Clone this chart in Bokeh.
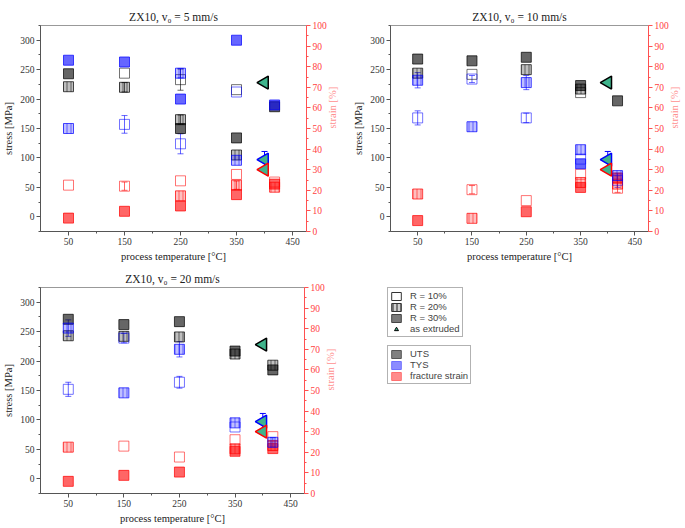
import math
from bokeh.plotting import figure
from bokeh.models import (Range1d, LinearAxis, FixedTicker, ColumnDataSource,
                          Whisker, TeeHead, Legend, LegendItem)
from bokeh.layouts import column, row
from bokeh.embed import file_html
from bokeh.resources import INLINE

# ---------------- data ----------------
x_ticks = [50, 150, 250, 350, 450]
x_minor = [100, 200, 300, 400]
stress_ticks = [0, 50, 100, 150, 200, 250, 300]
strain_ticks = [0, 10, 20, 30, 40, 50, 60, 70, 80, 90, 100]

titles = ["ZX10, v\u2080 = 5 mm/s", "ZX10, v\u2080 = 10 mm/s", "ZX10, v\u2080 = 20 mm/s"]

# v0 = 5 mm/s
v5_uts_T = [50, 50, 150, 150, 250, 250, 250, 350, 350, 350, 418]
v5_uts_val = [243, 221, 244, 220, 233, 165, 150, 216, 134, 105, 187]
v5_uts_R = [30, 20, 10, 20, 10, 20, 30, 10, 30, 20, 30]
v5_uts_err = [0, 0, 0, 8, 18, 8, 0, 0, 0, 0, 0]
v5_tys_T = [50, 50, 150, 150, 250, 250, 250, 350, 350, 350, 418]
v5_tys_val = [266, 150, 263, 157, 244, 200, 124, 300, 212, 96, 190]
v5_tys_R = [30, 20, 30, 10, 20, 30, 10, 30, 10, 20, 30]
v5_tys_err = [0, 0, 0, 15, 8, 0, 17, 0, 0, 0, 0]
v5_fs_T = [50, 50, 150, 150, 250, 250, 250, 350, 350, 350, 418, 418, 418]
v5_fs_val = [22.5, 6.5, 22, 9.8, 24.6, 17.3, 12.4, 27.7, 22.5, 17.9, 24, 21.5, 23]
v5_fs_R = [10, 30, 10, 30, 10, 20, 30, 10, 20, 30, 10, 20, 30]
v5_fs_err = [0, 0, 2, 0, 0, 0, 0, 0, 2, 0, 0, 0, 0]

# v0 = 10 mm/s
v10_uts_T = [50, 50, 150, 150, 250, 250, 350, 350, 350, 418]
v10_uts_val = [268, 244, 265, 242, 271, 250, 223, 217, 211, 197]
v10_uts_R = [30, 20, 30, 10, 30, 20, 30, 20, 10, 30]
v10_uts_err = [0, 0, 0, 0, 0, 0, 0, 0, 0, 0]
v10_tys_T = [50, 50, 150, 150, 250, 250, 350, 350, 350, 418, 418]
v10_tys_val = [232, 168, 234, 153, 228, 168, 114, 98, 90, 70, 62]
v10_tys_R = [20, 10, 10, 20, 20, 10, 20, 10, 30, 20, 10]
v10_tys_err = [13, 12, 6, 0, 12, 8, 0, 0, 0, 0, 12]
v10_fs_T = [50, 50, 150, 150, 250, 250, 350, 350, 350, 418, 418, 418]
v10_fs_val = [18.2, 5.3, 20.3, 6.4, 15, 9.6, 27.8, 23.8, 21.4, 26, 23, 21]
v10_fs_R = [20, 30, 10, 20, 10, 30, 10, 20, 30, 30, 20, 10]
v10_fs_err = [0, 0, 2, 0, 0, 0, 0, 0, 0, 0, 4, 0]

# v0 = 20 mm/s
v20_uts_T = [50, 50, 150, 150, 250, 250, 350, 350, 418, 418]
v20_uts_val = [271, 243, 262, 242, 267, 241, 217, 212, 193, 185]
v20_uts_R = [30, 20, 30, 20, 30, 20, 30, 20, 20, 30]
v20_uts_err = [0, 0, 0, 0, 0, 0, 0, 0, 0, 0]
v20_tys_T = [50, 50, 150, 150, 250, 250, 350, 350, 418]
v20_tys_val = [256, 152, 239, 146, 220, 164, 95, 88, 62]
v20_tys_R = [20, 10, 10, 20, 20, 10, 20, 10, 20]
v20_tys_err = [14, 12, 8, 0, 13, 10, 0, 0, 8]
v20_fs_T = [50, 50, 150, 150, 250, 250, 350, 350, 350, 418, 418, 418]
v20_fs_val = [22.5, 5.9, 23, 8.8, 17.7, 10.4, 26.1, 21.7, 20.5, 27.6, 23.3, 21.8]
v20_fs_R = [20, 30, 10, 30, 10, 30, 10, 20, 30, 10, 20, 30]
v20_fs_err = [0, 0, 0, 0, 0, 0, 0, 0, 0, 0, 0, 0]

# as extruded reference (T = 400 °C)
ext_T = 400
ext_uts = 228
ext_tys = 97
ext_tys_err = 14
ext_fs = 30

# ---------------- styling ----------------
SERIF = "Liberation Serif"
SANS = "Liberation Sans"
C_UTS = "#000000"
C_TYS = "#0000ff"
C_FS = "#ff0000"
TEAL = "#3fb48c"
FILL_ALPHA = {10: 0.0, 20: 0.25, 30: 0.6}
LINE_ALPHA = {10: 0.55, 20: 0.7, 30: 0.7}
FRAME_H = 206


def draw_series(p, T, val, R, err, color, range_name="default"):
    for r in (10, 20, 30):
        xs = [t for t, rr in zip(T, R) if rr == r]
        ys = [v for v, rr in zip(val, R) if rr == r]
        if not xs:
            continue
        kw = {}
        if r == 20:
            kw = dict(hatch_pattern="|", hatch_color=color, hatch_alpha=0.5, hatch_scale=4)
        p.scatter(xs, ys, marker="square", size=10, line_color=color,
                  line_alpha=LINE_ALPHA[r], fill_color=color if r > 10 else None,
                  fill_alpha=FILL_ALPHA[r], line_width=1, y_range_name=range_name, **kw)
    ex = [t for t, e in zip(T, err) if e > 0]
    if ex:
        up = [v + e for v, e in zip(val, err) if e > 0]
        lo = [v - e for v, e in zip(val, err) if e > 0]
        src = ColumnDataSource(dict(x=ex, upper=up, lower=lo))
        w = Whisker(base="x", upper="upper", lower="lower", source=src,
                    dimension="height", line_color=color, line_alpha=0.6, line_width=1,
                    upper_head=TeeHead(size=6, line_color=color, line_alpha=0.6),
                    lower_head=TeeHead(size=6, line_color=color, line_alpha=0.6),
                    y_range_name=range_name)
        p.add_layout(w)


def make_panel(title, data, frame_w, mbl, mbr, mbt, mbb):
    p = figure(frame_width=frame_w, frame_height=FRAME_H, output_backend="svg",
               toolbar_location=None,
               x_range=Range1d(0, 475), y_range=Range1d(-25, 325),
               min_border_left=mbl, min_border_right=mbr,
               min_border_top=mbt, min_border_bottom=mbb)
    p.extra_y_ranges = {"strain": Range1d(0, 100)}
    p.grid.visible = False
    p.outline_line_color = "#999999"
    p.background_fill_color = "white"

    p.title.text = title
    p.title.align = "center"
    p.title.text_font = SERIF
    p.title.text_font_size = "11.5px"
    p.title.text_font_style = "normal"
    p.title.text_color = "#222222"
    p.title.offset = 0
    p.title.standoff = 6

    xa = p.xaxis[0]
    xa.ticker = FixedTicker(ticks=x_ticks, minor_ticks=x_minor)
    xa.axis_label = "process temperature [\u00b0C]"
    ya = p.yaxis[0]
    ya.ticker = FixedTicker(ticks=stress_ticks,
                            minor_ticks=[-25, 25, 75, 125, 175, 225, 275, 325])
    ya.axis_label = "stress [MPa]"
    ra = LinearAxis(y_range_name="strain", axis_label="strain [%]",
                    ticker=FixedTicker(ticks=strain_ticks,
                                       minor_ticks=[5, 15, 25, 35, 45, 55, 65, 75, 85, 95]))
    p.add_layout(ra, "right")
    try:
        ra.axis_label_orientation = math.pi / 2
    except Exception:
        pass

    for ax in (xa, ya):
        ax.axis_line_color = "#555555"
        ax.major_tick_line_color = "#555555"
        ax.minor_tick_line_color = "#555555"
        ax.major_label_text_color = "#333333"
        ax.axis_label_text_color = "#222222"
    for ax in (xa, ya, ra):
        ax.major_label_text_font = SERIF
        ax.major_label_text_font_size = "9.5px"
        ax.axis_label_text_font = SERIF
        ax.axis_label_text_font_size = "10.5px"
        ax.axis_label_text_font_style = "normal"
        ax.major_tick_out = 4
        ax.major_tick_in = 0
        ax.minor_tick_out = 2
        ax.minor_tick_in = 0
        ax.major_label_standoff = 2
        ax.axis_label_standoff = 3
    ra.axis_line_color = "#ff5050"
    ra.major_tick_line_color = "#ff5050"
    ra.minor_tick_line_color = "#ff5050"
    ra.major_label_text_color = "#ff4040"
    ra.axis_label_text_color = "#ff9090"

    (uT, uV, uR, uE), (tT, tV, tR, tE), (fT, fV, fR, fE) = data
    draw_series(p, fT, fV, fR, fE, C_FS, "strain")
    draw_series(p, uT, uV, uR, uE, C_UTS)
    draw_series(p, tT, tV, tR, tE, C_TYS)

    # as extruded
    src = ColumnDataSource(dict(x=[ext_T], upper=[ext_tys + ext_tys_err], lower=[ext_tys - ext_tys_err]))
    p.add_layout(Whisker(base="x", upper="upper", lower="lower", source=src,
                         dimension="height", line_color=C_TYS, line_width=1,
                         upper_head=TeeHead(size=6, line_color=C_TYS),
                         lower_head=TeeHead(size=6, line_color=C_TYS)))
    tri = dict(marker="triangle", size=13, angle=math.pi / 2, fill_color=TEAL, line_width=1.5)
    p.scatter([ext_T], [ext_uts], line_color=C_UTS, **tri)
    p.scatter([ext_T], [ext_tys], line_color=C_TYS, **tri)
    p.scatter([ext_T], [ext_fs], line_color=C_FS, y_range_name="strain", **tri)
    return p


d5 = ((v5_uts_T, v5_uts_val, v5_uts_R, v5_uts_err),
      (v5_tys_T, v5_tys_val, v5_tys_R, v5_tys_err),
      (v5_fs_T, v5_fs_val, v5_fs_R, v5_fs_err))
d10 = ((v10_uts_T, v10_uts_val, v10_uts_R, v10_uts_err),
       (v10_tys_T, v10_tys_val, v10_tys_R, v10_tys_err),
       (v10_fs_T, v10_fs_val, v10_fs_R, v10_fs_err))
d20 = ((v20_uts_T, v20_uts_val, v20_uts_R, v20_uts_err),
       (v20_tys_T, v20_tys_val, v20_tys_R, v20_tys_err),
       (v20_fs_T, v20_fs_val, v20_fs_R, v20_fs_err))

p1 = make_panel(titles[0], d5, 266, 40, 37, 25, 33)
p2 = make_panel(titles[1], d10, 258, 44, 37, 25, 33)
p3 = make_panel(titles[2], d20, 264, 40, 38, 23, 32)

# ---------------- legend panel ----------------
p4 = figure(frame_width=338, frame_height=FRAME_H, output_backend="svg", toolbar_location=None,
            x_range=Range1d(0, 1), y_range=Range1d(0, 1),
            min_border_left=0, min_border_right=0, min_border_top=23, min_border_bottom=32,
            x_axis_type=None, y_axis_type=None)
p4.grid.visible = False
p4.outline_line_color = None
hx0, hx1, hy0, hy1 = [-5], [-4], [-5], [-4]
r10 = p4.quad(left=hx0, right=hx1, bottom=hy0, top=hy1, line_color="#333333", fill_color=None)
r20 = p4.quad(left=hx0, right=hx1, bottom=hy0, top=hy1, line_color="#333333", fill_color="#777777",
              fill_alpha=0.35, hatch_pattern="|", hatch_color="#222222", hatch_scale=4)
r30 = p4.quad(left=hx0, right=hx1, bottom=hy0, top=hy1, line_color="#444444", fill_color="#7a7a7a")
rex = p4.scatter([-5], [-5], marker="triangle", angle=math.pi / 2, size=10, line_color="#000000",
                 fill_color=TEAL, line_width=1)
ru = p4.quad(left=hx0, right=hx1, bottom=hy0, top=hy1, line_color="#555555", fill_color="#808080")
rt = p4.quad(left=hx0, right=hx1, bottom=hy0, top=hy1, line_color="#7070ff", fill_color="#8c8cff")
rf = p4.quad(left=hx0, right=hx1, bottom=hy0, top=hy1, line_color="#ff7070", fill_color="#ff8c8c")

leg_style = dict(border_line_color="#666666", border_line_width=1, padding=2, spacing=0,
                 margin=0, label_text_font=SANS, label_text_font_size="9.5px",
                 label_height=10, glyph_height=10, glyph_width=12, label_standoff=8,
                 background_fill_alpha=1.0)
leg1 = Legend(items=[LegendItem(label="R = 10%", renderers=[r10]),
                     LegendItem(label="R = 20%", renderers=[r20]),
                     LegendItem(label="R = 30%", renderers=[r30]),
                     LegendItem(label="as extruded", renderers=[rex])],
              location=(43, 156), **leg_style)
leg2 = Legend(items=[LegendItem(label="UTS", renderers=[ru]),
                     LegendItem(label="TYS", renderers=[rt]),
                     LegendItem(label="fracture strain", renderers=[rf])],
              location=(43, 109), **leg_style)
p4.add_layout(leg1)
p4.add_layout(leg2)

layout = column(row(p1, p2), row(p3, p4))
open("out.html", "w").write(file_html(layout, INLINE))
